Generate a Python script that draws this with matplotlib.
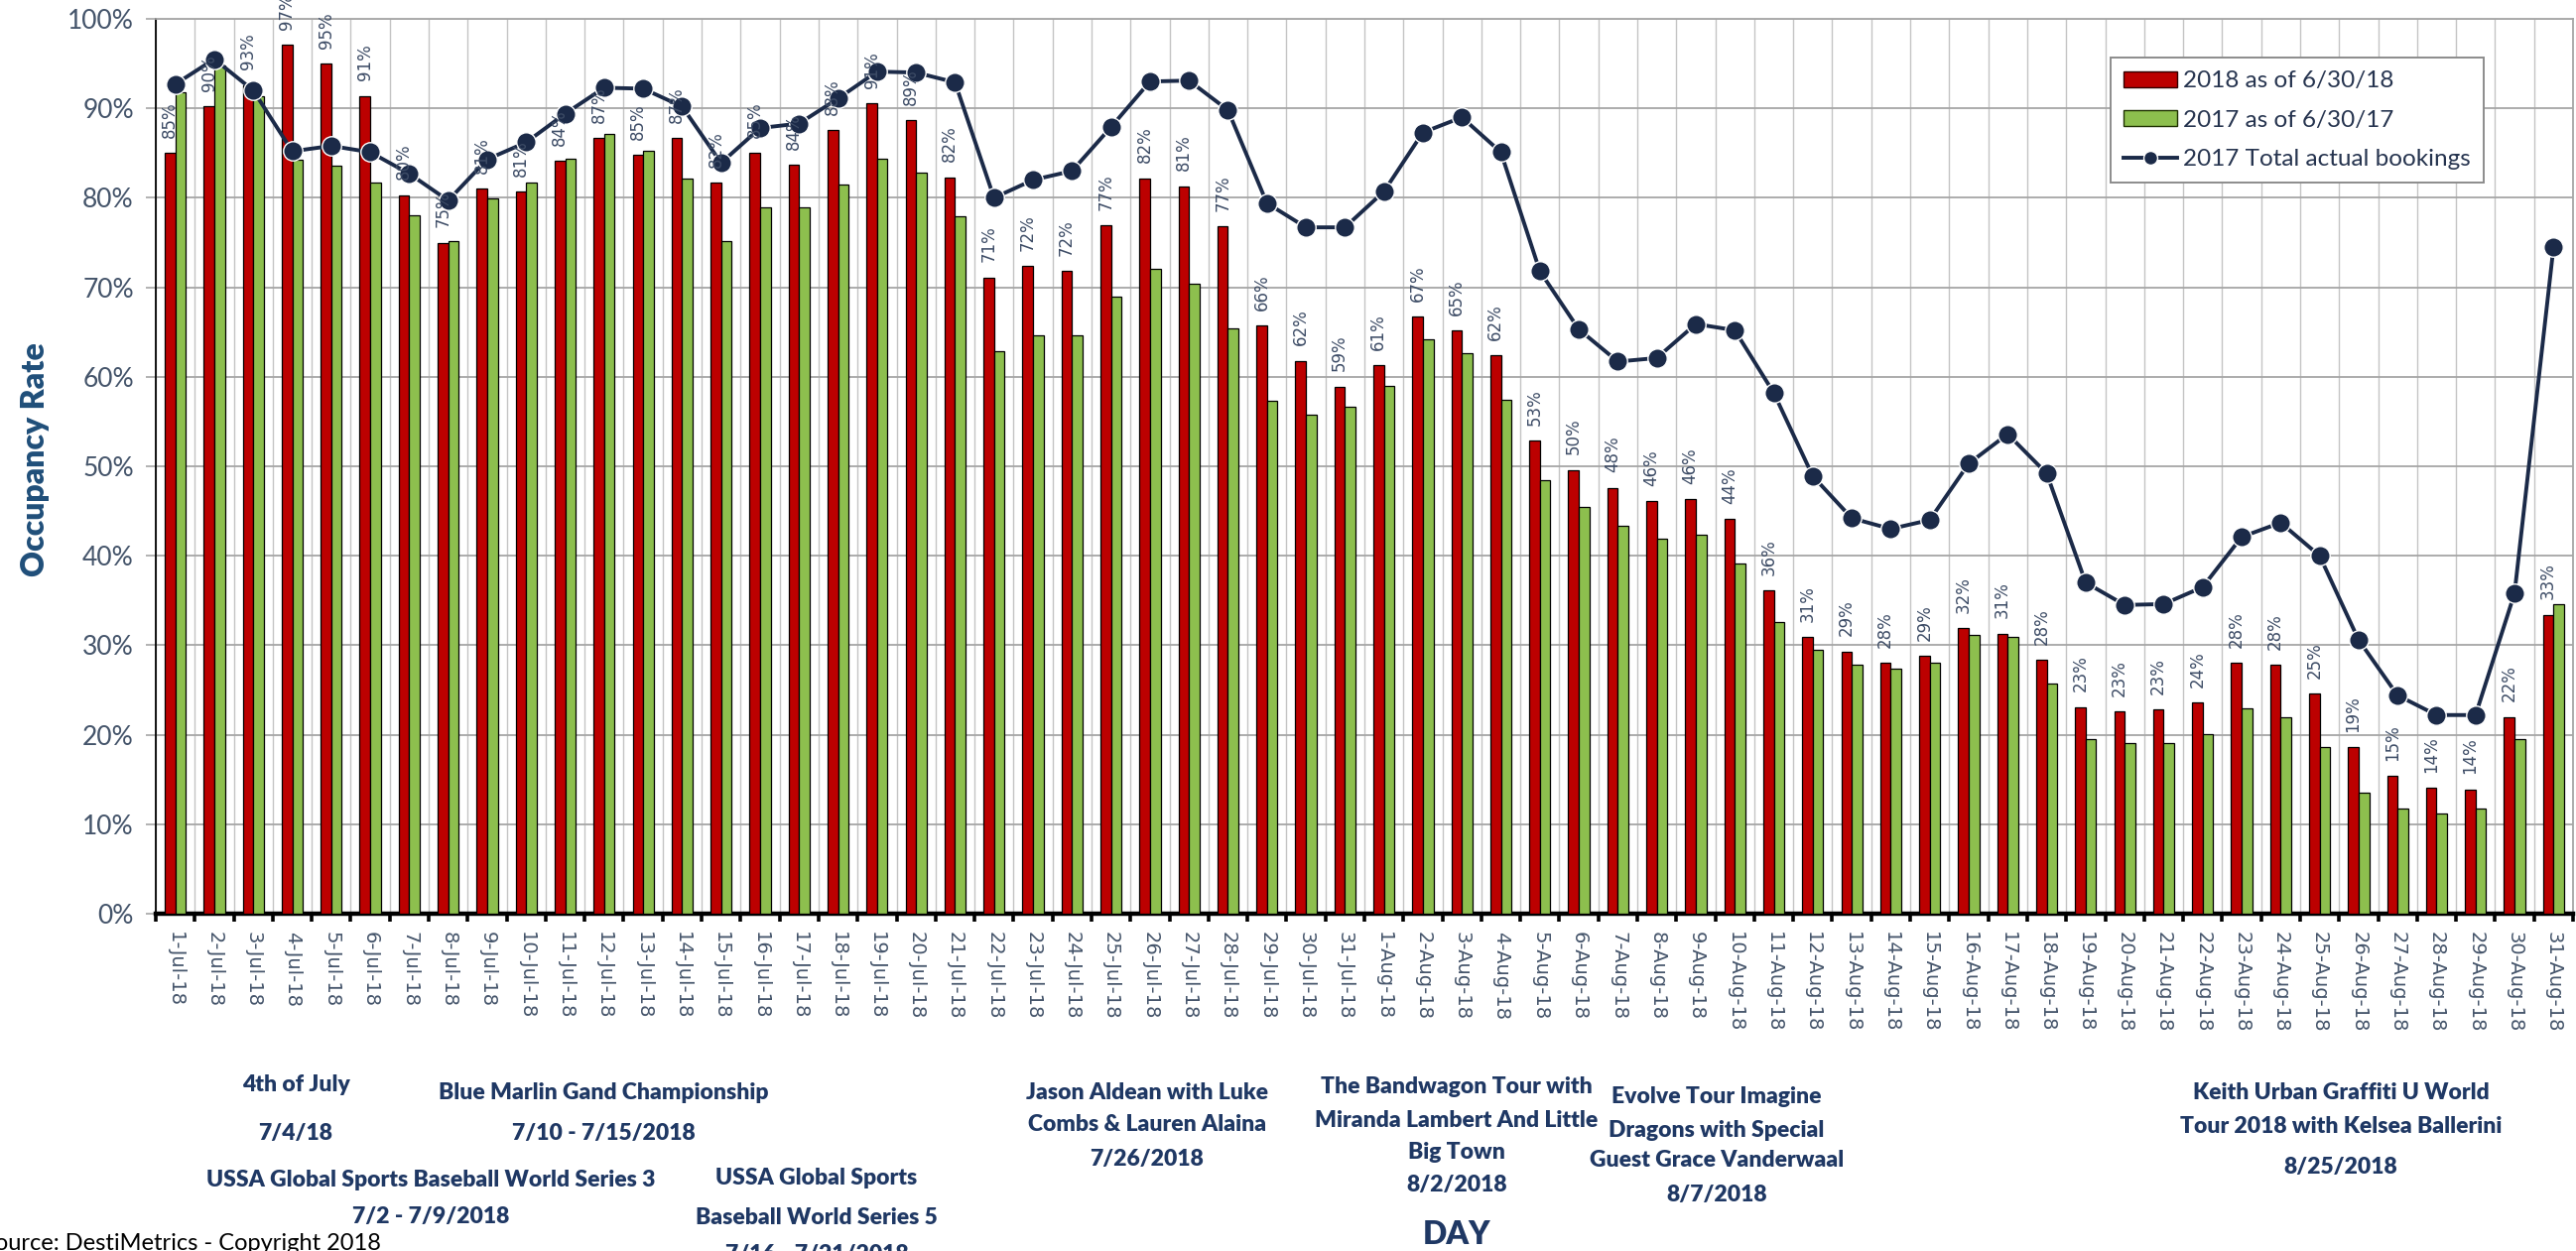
import matplotlib
matplotlib.use("Agg")
import matplotlib.pyplot as plt
from matplotlib.patches import Patch
from matplotlib.lines import Line2D
import numpy as np

# ---------------- data ----------------
days = [f"{d}-Jul-18" for d in range(1, 32)] + [f"{d}-Aug-18" for d in range(1, 32)]

occ_2018 = [85.0, 90.2, 92.6, 97.1, 95.0, 91.4, 80.3, 75.0, 81.0, 80.7,
            84.1, 86.7, 84.8, 86.7, 81.7, 85.0, 83.7, 87.6, 90.6, 88.7,
            82.3, 71.1, 72.4, 71.8, 76.9, 82.2, 81.3, 76.8, 65.7, 61.8,
            58.9, 61.3, 66.7, 65.2, 62.4, 52.9, 49.6, 47.6, 46.1, 46.3,
            44.1, 36.1, 30.9, 29.3, 28.0, 28.8, 31.9, 31.3, 28.4, 23.1,
            22.6, 22.8, 23.6, 28.0, 27.8, 24.6, 18.6, 15.4, 14.1, 13.9,
            22.0, 33.4]

occ_2017_otb = [91.8, 94.8, 91.3, 84.3, 83.6, 81.7, 78.1, 75.2, 79.9, 81.7,
                84.4, 87.1, 85.2, 82.2, 75.2, 78.9, 78.9, 81.5, 84.4, 82.8,
                77.9, 62.9, 64.6, 64.6, 69.0, 72.1, 70.4, 65.4, 57.3, 55.8,
                56.6, 59.0, 64.2, 62.6, 57.4, 48.5, 45.4, 43.3, 41.9, 42.4,
                39.1, 32.6, 29.5, 27.8, 27.4, 28.0, 31.2, 30.9, 25.7, 19.5,
                19.1, 19.1, 20.1, 22.9, 21.9, 18.6, 13.5, 11.7, 11.2, 11.7,
                19.5, 34.6]

occ_2017_actual = [92.7, 95.5, 92.0, 85.2, 85.8, 85.1, 82.7, 79.7, 84.3, 86.2,
                   89.4, 92.3, 92.2, 90.2, 83.9, 87.8, 88.3, 91.1, 94.1, 94.0,
                   92.9, 80.0, 82.0, 83.0, 87.9, 93.0, 93.1, 89.8, 79.4, 76.7,
                   76.7, 80.7, 87.3, 89.0, 85.1, 71.8, 65.3, 61.7, 62.1, 65.9,
                   65.2, 58.2, 48.9, 44.2, 43.0, 44.0, 50.3, 53.6, 49.2, 37.0,
                   34.5, 34.6, 36.5, 42.1, 43.7, 40.0, 30.6, 24.4, 22.2, 22.2,
                   35.8, 74.5]

y_ticks = [0, 10, 20, 30, 40, 50, 60, 70, 80, 90, 100]
series_names = ["2018 as of 6/30/18", "2017 as of 6/30/17", "2017 Total actual bookings"]

events = [
    ("4th of July", 298, 1094),
    ("7/4/18", 298, 1142),
    ("Blue Marlin Gand Championship", 608, 1101),
    ("7/10 - 7/15/2018", 608, 1142),
    ("USSA Global Sports Baseball World Series 3", 434, 1190),
    ("7/2 - 7/9/2018", 434, 1227),
    ("USSA Global Sports", 823, 1187),
    ("Baseball World Series 5", 823, 1227),
    ("7/16 - 7/21/2018", 823, 1265),
    ("Jason Aldean with Luke", 1156, 1101),
    ("Combs & Lauren Alaina", 1156, 1134),
    ("7/26/2018", 1156, 1169),
    ("The Bandwagon Tour with", 1468, 1096),
    ("Miranda Lambert And Little", 1468, 1129),
    ("Big Town", 1468, 1162),
    ("8/2/2018", 1468, 1194),
    ("Evolve Tour Imagine", 1730, 1106),
    ("Dragons with Special", 1730, 1139),
    ("Guest Grace Vanderwaal", 1730, 1170),
    ("8/7/2018", 1730, 1204),
    ("Keith Urban Graffiti U World", 2359, 1101),
    ("Tour 2018 with Kelsea Ballerini", 2359, 1136),
    ("8/25/2018", 2359, 1177),
]

# ---------------- style ----------------
W, H = 2596, 1261
RED = "#BC0000"
GREEN = "#8DBF4E"
NAVY = "#1B2A48"
TXT = "#44546A"
ANN = "#1F3864"
MAIN_FONT = ["Lato", "DejaVu Sans"]

fig = plt.figure(figsize=(W / 100, H / 100), dpi=100)
ax = fig.add_axes([157 / W, 1 - 921 / H, 2436 / W, 902 / H])

x = np.arange(len(days))
bw = 0.27
ax.bar(x - bw / 2, occ_2018, bw, color=RED, edgecolor="black", linewidth=0.9, zorder=3)
ax.bar(x + bw / 2, occ_2017_otb, bw, color=GREEN, edgecolor="black", linewidth=0.9, zorder=3)
ax.plot(x, occ_2017_actual, color=NAVY, lw=2.8, marker="o", markersize=14,
        markerfacecolor=NAVY, markeredgecolor="white", markeredgewidth=1.0, zorder=4)

for xi, v in zip(x, occ_2018):
    ax.annotate(f"{v:.0f}%", (xi - bw / 2, v), xytext=(0, 11), textcoords="offset points",
                rotation=90, ha="center", va="bottom", fontsize=12, color="#3D4C66",
                family=["DejaVu Sans"], zorder=5)

ax.set_xlim(-0.5, len(days) - 0.5)
ax.set_ylim(0, 100)

ax.set_yticks(y_ticks)
ax.set_yticklabels([f"{t}%" for t in y_ticks], family=MAIN_FONT, fontsize=19, color=TXT)
ax.tick_params(axis="y", length=7, color="#A6A6A6", width=1.2, pad=9)

ax.set_xticks(x)
ax.set_xticklabels(days, rotation=270, family=["DejaVu Sans"], fontsize=14, color=TXT)
ax.set_xticks(np.arange(-0.5, len(days), 1.0), minor=True)
ax.tick_params(axis="x", which="major", length=0, pad=13)
ax.tick_params(axis="x", which="minor", length=6, width=2.6, color="black", direction="out")

ax.grid(axis="y", which="major", color="#A6A6A6", lw=1.3, zorder=0)
ax.grid(axis="x", which="minor", color="#C4C4C4", lw=1.0, zorder=0)
ax.set_axisbelow(True)

ax.spines["bottom"].set_linewidth(3.2)
ax.spines["bottom"].set_color("black")
ax.spines["left"].set_linewidth(1.3)
ax.spines["left"].set_color("black")
for s in ("top", "right"):
    ax.spines[s].set_color("#A6A6A6")
    ax.spines[s].set_linewidth(1.3)

fig.text(36 / W, 1 - 463 / H, "Occupancy Rate", rotation=90, ha="center", va="center",
         fontsize=23, fontweight="heavy", color="#1F4E79", family=MAIN_FONT)

handles = [
    Patch(facecolor=RED, edgecolor="#300000", linewidth=1.0),
    Patch(facecolor=GREEN, edgecolor="#1E3000", linewidth=1.0),
    Line2D([0], [0], color=NAVY, lw=2.8, marker="o", markersize=10, markerfacecolor=NAVY,
           markeredgecolor="white"),
]
leg = ax.legend(handles, series_names, loc="upper left",
                bbox_to_anchor=((2127 - 157) / 2436, (921 - 58) / 902),
                prop={"family": MAIN_FONT, "size": 17.5}, frameon=True, fancybox=False,
                edgecolor="#8C8C8C", framealpha=1, handlelength=2.2, handleheight=0.6,
                handletextpad=0.25, labelspacing=0.75, borderpad=0.55, borderaxespad=0)
leg.get_frame().set_linewidth(1.4)
for t in leg.get_texts():
    t.set_color("#26344F")

for txt, px, py in events:
    fig.text(px / W, 1 - py / H, txt, ha="center", va="center", fontsize=16.5,
             fontweight="heavy", color=ANN, family=MAIN_FONT)

fig.text(1468 / W, 1 - 1245 / H, "DAY", ha="center", va="center", fontsize=23,
         fontweight="heavy", color=ANN, family=MAIN_FONT)

fig.text(384 / W, 1 - 1253 / H, "Source: DestiMetrics - Copyright 2018", ha="right",
         va="center", fontsize=17, color="black", family=MAIN_FONT)

fig.savefig("out.png", dpi=100)
